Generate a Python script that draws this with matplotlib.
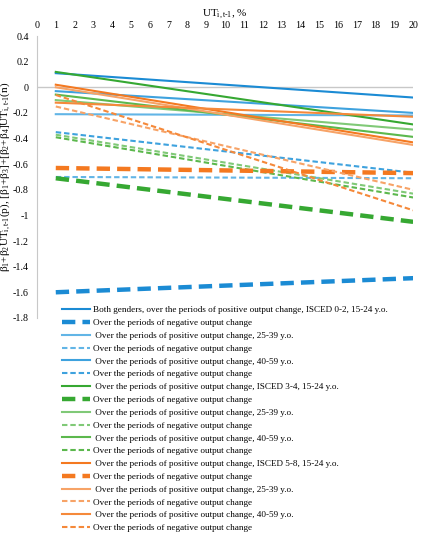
import numpy as np
import matplotlib
matplotlib.use("Agg")
import matplotlib.pyplot as plt

plt.rcParams['font.family'] = ['Liberation Serif', 'DejaVu Serif']
plt.rcParams['mathtext.fontset'] = 'custom'
plt.rcParams['mathtext.rm'] = 'Liberation Serif'
plt.rcParams['mathtext.it'] = 'Liberation Serif:italic'

# UT values at the two ends of each line
ut = [1, 20]

labels = [
    "Both genders, over the periods of positive output change, ISCED 0-2, 15-24 y.o.",
    "Over the periods of negative output change",
    " Over the periods of positive output change, 25-39 y.o.",
    "Over the periods of negative output change",
    " Over the periods of positive output change, 40-59 y.o.",
    "Over the periods of negative output change",
    " Over the periods of positive output change, ISCED 3-4, 15-24 y.o.",
    "Over the periods of negative output change",
    " Over the periods of positive output change, 25-39 y.o.",
    "Over the periods of negative output change",
    " Over the periods of positive output change, 40-59 y.o.",
    "Over the periods of negative output change",
    " Over the periods of positive output change, ISCED 5-8, 15-24 y.o.",
    "Over the periods of negative output change",
    " Over the periods of positive output change, 25-39 y.o.",
    "Over the periods of negative output change",
    " Over the periods of positive output change, 40-59 y.o.",
    "Over the periods of negative output change",
]
# value at UT=1 and at UT=20
start_vals = [0.11, -1.60, -0.21, -0.70, -0.03, -0.35,
              0.12, -0.71, -0.10, -0.37, -0.057, -0.39,
              0.02, -0.63, 0.00, -0.15, -0.12, -0.06]
end_vals = [-0.08, -1.49, -0.22, -0.71, -0.20, -0.667,
            -0.29, -1.05, -0.33, -0.83, -0.387, -0.86,
            -0.43, -0.67, -0.45, -0.80, -0.23, -0.96]

xticks = list(range(0, 21))
yticks = [0.4, 0.2, 0, -0.2, -0.4, -0.6, -0.8, -1, -1.2, -1.4, -1.6, -1.8]
ytick_labels = ["0.4", "0.2", "0", "-0.2", "-0.4", "-0.6", "-0.8", "-1",
                "-1.2", "-1.4", "-1.6", "-1.8"]

# colours per group: (positive, negative) x age
cols = ['#1B8BD4', '#1B8BD4', '#62B5E6', '#62B5E6', '#3EA2DE', '#3EA2DE',
        '#36A832', '#36A832', '#80C977', '#80C977', '#5CB84D', '#5CB84D',
        '#F47920', '#F47920', '#F7A367', '#F7A367', '#F5893A', '#F5893A']

fig = plt.figure(figsize=(4.25, 5.5), dpi=100)
ax = fig.add_axes([0.087, 0.422, 0.885, 0.5125])

for i in range(len(labels)):
    neg = i % 2 == 1
    thick = neg and i % 6 == 1
    if not neg:
        ax.plot(ut, [start_vals[i], end_vals[i]], color=cols[i], lw=1.5,
                label=labels[i])
    elif thick:
        ax.plot(ut, [start_vals[i], end_vals[i]], color=cols[i], lw=3.2,
                dashes=(3.0, 1.6), label=labels[i])
    else:
        ax.plot(ut, [start_vals[i], end_vals[i]], color=cols[i], lw=1.5,
                dashes=(2.6, 1.4), label=labels[i])

ax.set_xlim(0, 20)
ax.set_ylim(-1.8, 0.4)
ax.axhline(0, color='#c8c8c8', lw=1, zorder=0)
ax.xaxis.tick_top()
ax.xaxis.set_label_position('top')
ax.set_xticks(xticks)
ax.set_yticks(yticks)
ax.set_yticklabels(ytick_labels)
ax.tick_params(length=0, labelsize=7.2)
ax.tick_params(axis='y', pad=6)
ax.tick_params(axis='x', pad=4)
for s in ['top', 'right', 'bottom']:
    ax.spines[s].set_visible(False)
ax.spines['left'].set_color('#c8c8c8')

ax.set_xlabel(r'UT$_{\mathrm{i,t\text{-}1}}$, %', fontsize=8, labelpad=4)
ax.set_ylabel(r'β$_1$+β$_2$UT$_{\mathrm{i,t\text{-}1}}$(p), [β$_1$+β$_3$]+[β$_2$+β$_4$]UT$_{\mathrm{i,t\text{-}1}}$(n)',
              fontsize=8)
ax.yaxis.set_label_coords(-0.063, 0.5)

fig.legend(loc='upper left', bbox_to_anchor=(62 / 425, 1 - 306 / 550),
           frameon=False, fontsize=6.6, handlelength=3.05, handletextpad=0.3,
           labelspacing=0.48, borderpad=0, borderaxespad=0)

fig.savefig("out.png", dpi=100)
